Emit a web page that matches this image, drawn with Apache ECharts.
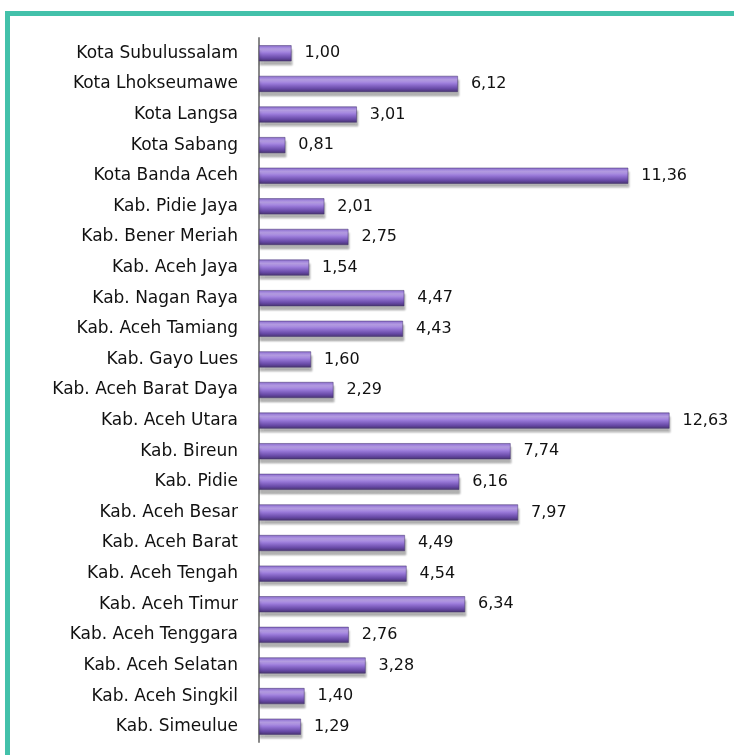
<!DOCTYPE html>
<html>
<head>
<meta charset="utf-8">
<script src="https://cdn.jsdelivr.net/npm/echarts@6/dist/echarts.min.js"></script>
<style>
  html, body { margin: 0; padding: 0; background: #fff; }
  #main { width: 734px; height: 755px; }
</style>
</head>
<body>
<div id="main"></div>
<script>
// 数据 => 从上到下
const regions = [
  'Kota Subulussalam', 'Kota Lhokseumawe', 'Kota Langsa', 'Kota Sabang',
  'Kota Banda Aceh', 'Kab. Pidie Jaya', 'Kab. Bener Meriah', 'Kab. Aceh Jaya',
  'Kab. Nagan Raya', 'Kab. Aceh Tamiang', 'Kab. Gayo Lues', 'Kab. Aceh Barat Daya',
  'Kab. Aceh Utara', 'Kab. Bireun', 'Kab. Pidie', 'Kab. Aceh Besar',
  'Kab. Aceh Barat', 'Kab. Aceh Tengah', 'Kab. Aceh Timur', 'Kab. Aceh Tenggara',
  'Kab. Aceh Selatan', 'Kab. Aceh Singkil', 'Kab. Simeulue'
]
const values = [
  1.00, 6.12, 3.01, 0.81,
  11.36, 2.01, 2.75, 1.54,
  4.47, 4.43, 1.60, 2.29,
  12.63, 7.74, 6.16, 7.97,
  4.49, 4.54, 6.34, 2.76,
  3.28, 1.40, 1.29
]

const myChart = echarts.init(document.querySelector('#main'))
const option = {
  backgroundColor: '#fff',
  textStyle: { fontFamily: 'DejaVu Sans' },
  // 边框 (青色)
  graphic: [
    {
      type: 'rect',
      shape: { x: 7.5, y: 13.5, width: 800, height: 800 },
      style: { fill: 'none', stroke: '#43c1aa', lineWidth: 5 },
      z: 100
    }
  ],
  grid: {
    left: 259,
    right: 20,
    top: 38,
    bottom: 13
  },
  xAxis: {
    type: 'value',
    min: 0,
    max: 14,
    show: false
  },
  yAxis: {
    type: 'category',
    inverse: true,
    data: regions,
    axisLine: { lineStyle: { color: '#888', width: 2 } },
    axisTick: { show: false },
    axisLabel: { color: '#111', fontSize: 17, margin: 21 }
  },
  series: [
    {
      type: 'bar',
      data: values,
      barWidth: 16,
      label: {
        show: true,
        position: 'right',
        distance: 13,
        color: '#111',
        fontSize: 16,
        formatter: p => p.value.toFixed(2).replace('.', ',')
      },
      itemStyle: {
        color: {
          type: 'linear',
          x: 0, y: 0, x2: 0, y2: 1,
          colorStops: [
            { offset: 0, color: '#8466c6' },
            { offset: 0.25, color: '#bfa6ef' },
            { offset: 0.5, color: '#9676d6' },
            { offset: 0.8, color: '#6749a6' },
            { offset: 1, color: '#47336f' }
          ]
        },
        borderColor: '#45346f',
        borderWidth: 0.5,
        shadowColor: 'rgba(0,0,0,0.3)',
        shadowOffsetY: 4,
        shadowOffsetX: 1,
        shadowBlur: 2
      }
    }
  ]
}
myChart.setOption(option)
</script>
</body>
</html>
